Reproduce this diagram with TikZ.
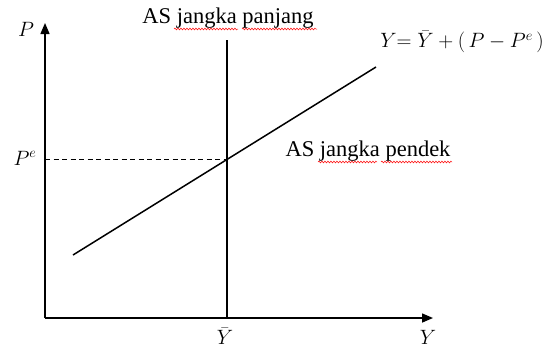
\documentclass[tikz,border=0pt]{standalone}
\usepackage{fontspec}
\setmainfont{Liberation Serif}
\usetikzlibrary{arrows.meta,decorations.pathmorphing}
\begin{document}
\begin{tikzpicture}[x=1pt,y=-1pt,
  axis/.style={line width=1.5pt,-{Triangle[length=11pt,width=9pt]}},
  curve/.style={line width=1.5pt},
  lbl/.style={inner sep=0pt,font=\fontsize{21}{24}\selectfont},
  txt/.style={inner sep=0pt,font=\fontsize{22.5}{26}\selectfont},
  spell/.style={red,line width=0.5pt,decorate,decoration={snake,amplitude=0.9pt,segment length=3pt}}]
\useasboundingbox (0,0) rectangle (554,349);
\coordinate (O) at (45,318);
\coordinate (ytop) at (45,23);
\coordinate (xend) at (433,318);
\coordinate (vtop) at (227,40);
\coordinate (vbot) at (227,318);
\coordinate (s1) at (73,255);
\coordinate (s2) at (376,67);
\coordinate (pe) at (45,159);
\coordinate (E) at (227,159);
\draw[axis] (O) -- (ytop);
\draw[axis] (O) -- (xend);
\draw[curve] (vbot) -- (vtop);
\draw[curve] (s1) -- (s2);
\draw[dashed,line width=0.8pt,dash pattern=on 5pt off 3.5pt] (pe) -- (E);
\node[lbl] (P) at (26,29) {$P$};
\node[lbl] (Pe) at (25,158) {$P^e$};
\node[txt] (LR) at (228,18) {AS jangka panjang};
\node[txt] (SR) at (368,151) {AS jangka pendek};
\node[lbl] (eq) at (462,42) {$Y{=}\;\bar{Y}+(\,P-P^e\,)$};
\node[lbl] (Yb) at (225,336) {$\bar{Y}$};
\node[lbl] (Y) at (428,337) {$Y$};
\draw[spell] (174,29) -- (238,29);
\draw[spell] (242,29) -- (317,29);
\draw[spell] (318,162) -- (377,162);
\draw[spell] (381,162) -- (452,162);
\end{tikzpicture}
\end{document}
